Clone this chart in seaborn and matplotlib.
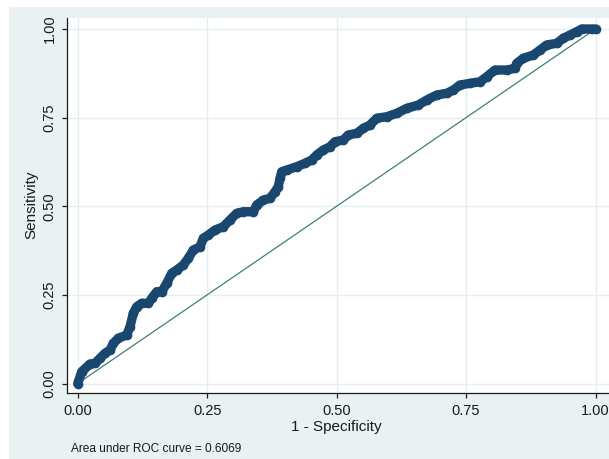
import matplotlib
matplotlib.use("Agg")
import matplotlib.pyplot as plt
from matplotlib.patches import Rectangle
import numpy as np
import pandas as pd
import seaborn as sns

# ---- data ----
fpr = [0.0, 0.0077, 0.0238, 0.0334, 0.0431, 0.0527, 0.0624, 0.0688, 0.0784, 0.0946,
       0.1010, 0.1074, 0.1139, 0.1236, 0.1363, 0.1429, 0.1526, 0.1622, 0.1719, 0.1815,
       0.1912, 0.2039, 0.2136, 0.2233, 0.2362, 0.2426, 0.2522, 0.2652, 0.2812, 0.2941,
       0.3071, 0.3198, 0.3391, 0.3457, 0.3584, 0.3714, 0.3810, 0.3874, 0.3907, 0.3940,
       0.4036, 0.4229, 0.4390, 0.4519, 0.4616, 0.4743, 0.4873, 0.4969, 0.5129, 0.5226,
       0.5388, 0.5516, 0.5645, 0.5774, 0.5968, 0.6161, 0.6354, 0.6578, 0.6740, 0.6933,
       0.7126, 0.7254, 0.7383, 0.7576, 0.7770, 0.7899, 0.8059, 0.8285, 0.8445, 0.8478,
       0.8606, 0.8799, 0.8928, 0.9058, 0.9251, 0.9378, 0.9508, 0.9637, 0.9734, 0.9927,
       1.0]
tpr = [0.0, 0.0333, 0.0550, 0.0570, 0.0711, 0.0852, 0.0945, 0.1134, 0.1275, 0.1368,
       0.1602, 0.1980, 0.2166, 0.2262, 0.2262, 0.2403, 0.2590, 0.2590, 0.2826, 0.3109,
       0.3202, 0.3343, 0.3532, 0.3766, 0.3859, 0.4096, 0.4189, 0.4330, 0.4423, 0.4612,
       0.4801, 0.4846, 0.4846, 0.5035, 0.5176, 0.5224, 0.5410, 0.5551, 0.5788, 0.5975,
       0.6023, 0.6116, 0.6212, 0.6305, 0.6446, 0.6587, 0.6680, 0.6821, 0.6869, 0.7010,
       0.7058, 0.7199, 0.7292, 0.7481, 0.7526, 0.7622, 0.7763, 0.7856, 0.7997, 0.8138,
       0.8186, 0.8279, 0.8420, 0.8468, 0.8513, 0.8654, 0.8843, 0.8843, 0.8891, 0.9032,
       0.9173, 0.9267, 0.9408, 0.9549, 0.9597, 0.9738, 0.9831, 0.9924, 1.0, 1.0,
       1.0]
ref_x = [0.0, 1.0]
ref_y = [0.0, 1.0]
tick_values = [0.0, 0.25, 0.50, 0.75, 1.0]
tick_labels = ["0.00", "0.25", "0.50", "0.75", "1.00"]
x_title = "1 - Specificity"
y_title = "Sensitivity"
note_text = "Area under ROC curve = 0.6069"

roc = pd.DataFrame({"fpr": fpr, "tpr": tpr})
ref = pd.DataFrame({"x": ref_x, "y": ref_y})

# ---- styling ----
plt.rcParams["font.family"] = ["Liberation Sans", "DejaVu Sans"]
W, H = 609, 459
fig = plt.figure(figsize=(W / 100, H / 100), dpi=100, facecolor="white")

BG = "#e9f1f3"
fig.patches.append(Rectangle((9 / W, 0), 1, (H - 7) / H, transform=fig.transFigure,
                             facecolor=BG, edgecolor="none", zorder=-10))

left_px, right_px, top_px, bot_px = 66.7, 613, 18.3, 393.3
ax = fig.add_axes([left_px / W, (H - bot_px) / H,
                   (right_px - left_px) / W, (bot_px - top_px) / H])
ax.set_facecolor("white")

sns.lineplot(data=ref, x="x", y="y", ax=ax, color="#3d8074", linewidth=0.9,
             estimator=None, zorder=2)
sns.lineplot(data=roc, x="fpr", y="tpr", ax=ax, color="#1a476f", linewidth=6.7,
             marker="o", markersize=7.0, markeredgewidth=0, estimator=None,
             solid_joinstyle="round", solid_capstyle="round", zorder=3)

x0, xs = 77.7, 517.8
y0, ys = 383.5, 354.5
ax.set_xlim((left_px - x0) / xs, (right_px - x0) / xs)
ax.set_ylim((y0 - bot_px) / ys, (y0 - top_px) / ys)

ax.set_xticks(tick_values)
ax.set_xticklabels(tick_labels)
ax.set_yticks(tick_values)
ax.set_yticklabels(tick_labels, rotation=90, va="center")
ax.set_xlabel("")
ax.set_ylabel("")

ax.grid(True, color="#e4eef1", linewidth=1.0, zorder=0)
ax.set_axisbelow(True)
for s in ["top", "right"]:
    ax.spines[s].set_visible(False)
for s in ["left", "bottom"]:
    ax.spines[s].set_color("#1a1a1a")
    ax.spines[s].set_linewidth(0.9)
ax.tick_params(axis="both", direction="out", length=3.8, width=0.9, color="#1a1a1a",
               labelsize=10.5, labelcolor="#1a1a1a")
ax.tick_params(axis="x", pad=4.2)
ax.tick_params(axis="y", pad=3.6)

fig.text(336 / W, 1 - 427.3 / H, x_title, ha="center", va="center", fontsize=11,
         color="#1a1a1a")
fig.text(31 / W, 1 - 205 / H, y_title, ha="center", va="center", rotation=90,
         fontsize=11, color="#1a1a1a")
fig.text(70.7 / W, 1 - 449.3 / H, note_text, ha="left", va="center", fontsize=8.6,
         color="#1a1a1a")

fig.savefig("out.png", dpi=100, facecolor="white")
